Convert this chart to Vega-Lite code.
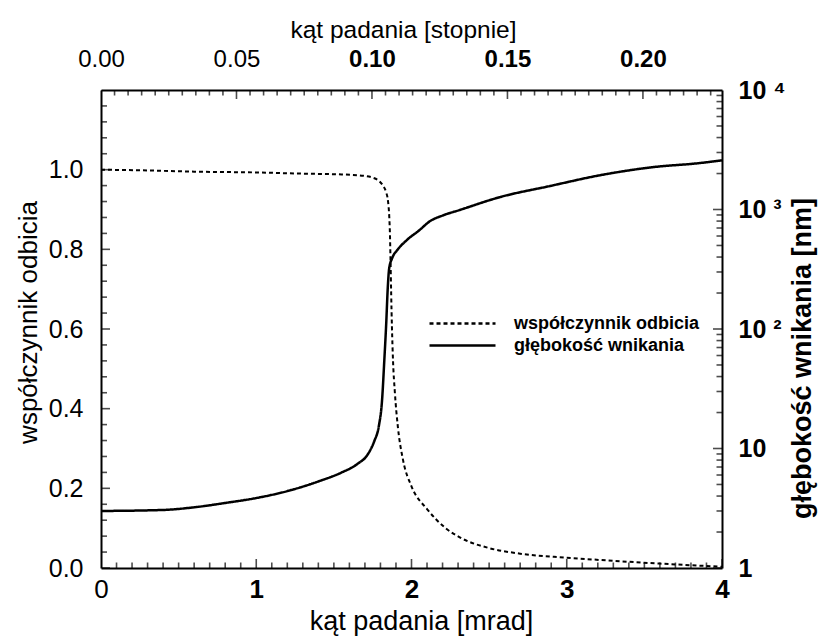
{
  "$schema": "https://vega.github.io/schema/vega-lite/v6.json",
  "width": 621,
  "height": 478,
  "autosize": "none",
  "padding": {"left": 101, "top": 90, "right": 100, "bottom": 68},
  "background": "white",
  "config": {
    "font": "Liberation Sans",
    "view": {"stroke": null},
    "axis": {
      "grid": false,
      "ticks": false,
      "domainColor": "black",
      "domainWidth": 2,
      "labelColor": "black",
      "titleColor": "black",
      "labelFont": "Liberation Sans",
      "titleFont": "Liberation Sans",
      "labelFontSize": 25,
      "titleFontSize": 26,
      "titleFontWeight": "normal",
      "labelOverlap": false,
      "labelFlush": false
    },
    "legend": {
      "orient": "none",
      "legendX": 349,
      "legendY": 221,
      "symbolType": "M-3,0H3",
      "symbolSize": 484,
      "symbolStrokeWidth": 2.5,
      "symbolStrokeColor": "black",
      "symbolFillColor": "transparent",
      "labelFont": "Liberation Sans",
      "labelFontSize": 18,
      "labelFontWeight": "bold",
      "labelColor": "black",
      "labelLimit": 400,
      "labelOffset": 39,
      "rowPadding": -2
    }
  },
  "datasets": {
    "odbicie": [
      {"x": 0.0, "R": 1.0},
      {"x": 0.3, "R": 0.998},
      {"x": 0.6, "R": 0.995},
      {"x": 1.0, "R": 0.993},
      {"x": 1.3, "R": 0.99},
      {"x": 1.55, "R": 0.988},
      {"x": 1.68, "R": 0.985},
      {"x": 1.75, "R": 0.98},
      {"x": 1.79, "R": 0.972},
      {"x": 1.816, "R": 0.96},
      {"x": 1.835, "R": 0.945},
      {"x": 1.849, "R": 0.92},
      {"x": 1.857, "R": 0.88},
      {"x": 1.861, "R": 0.84},
      {"x": 1.865, "R": 0.77},
      {"x": 1.869, "R": 0.69},
      {"x": 1.874, "R": 0.605},
      {"x": 1.881, "R": 0.52},
      {"x": 1.893, "R": 0.44},
      {"x": 1.912, "R": 0.355},
      {"x": 1.945, "R": 0.272},
      {"x": 2.0, "R": 0.205},
      {"x": 2.1, "R": 0.148},
      {"x": 2.22, "R": 0.1},
      {"x": 2.32, "R": 0.075},
      {"x": 2.5, "R": 0.05},
      {"x": 2.7, "R": 0.036},
      {"x": 3.0, "R": 0.026},
      {"x": 3.3, "R": 0.018},
      {"x": 3.6, "R": 0.011},
      {"x": 3.85, "R": 0.006},
      {"x": 4.0, "R": 0.003}
    ],
    "wnikanie": [
      {"x": 0.0, "d": 3.0},
      {"x": 0.4, "d": 3.06},
      {"x": 0.6, "d": 3.22},
      {"x": 0.8, "d": 3.5},
      {"x": 1.0, "d": 3.85},
      {"x": 1.2, "d": 4.4},
      {"x": 1.4, "d": 5.3},
      {"x": 1.55, "d": 6.3},
      {"x": 1.65, "d": 7.4},
      {"x": 1.72, "d": 9.0},
      {"x": 1.76, "d": 11.5},
      {"x": 1.79, "d": 15.5},
      {"x": 1.81, "d": 25},
      {"x": 1.825, "d": 55},
      {"x": 1.837, "d": 110},
      {"x": 1.847, "d": 220},
      {"x": 1.856, "d": 320},
      {"x": 1.875, "d": 390},
      {"x": 1.91, "d": 460},
      {"x": 1.97, "d": 555},
      {"x": 2.05, "d": 670},
      {"x": 2.12, "d": 800},
      {"x": 2.2, "d": 890},
      {"x": 2.31, "d": 990},
      {"x": 2.57, "d": 1270},
      {"x": 2.89, "d": 1570},
      {"x": 3.21, "d": 1930},
      {"x": 3.54, "d": 2250},
      {"x": 3.86, "d": 2450},
      {"x": 4.0, "d": 2580}
    ],
    "os_dol": [
      {"v": 0, "g": 1}, {"v": 0.1, "g": 0}, {"v": 0.2, "g": 0}, {"v": 0.3, "g": 0}, {"v": 0.4, "g": 0},
      {"v": 0.5, "g": 0}, {"v": 0.6, "g": 0}, {"v": 0.7, "g": 0}, {"v": 0.8, "g": 0}, {"v": 0.9, "g": 0},
      {"v": 1, "g": 1}, {"v": 1.1, "g": 0}, {"v": 1.2, "g": 0}, {"v": 1.3, "g": 0}, {"v": 1.4, "g": 0},
      {"v": 1.5, "g": 0}, {"v": 1.6, "g": 0}, {"v": 1.7, "g": 0}, {"v": 1.8, "g": 0}, {"v": 1.9, "g": 0},
      {"v": 2, "g": 1}, {"v": 2.1, "g": 0}, {"v": 2.2, "g": 0}, {"v": 2.3, "g": 0}, {"v": 2.4, "g": 0},
      {"v": 2.5, "g": 0}, {"v": 2.6, "g": 0}, {"v": 2.7, "g": 0}, {"v": 2.8, "g": 0}, {"v": 2.9, "g": 0},
      {"v": 3, "g": 1}, {"v": 3.1, "g": 0}, {"v": 3.2, "g": 0}, {"v": 3.3, "g": 0}, {"v": 3.4, "g": 0},
      {"v": 3.5, "g": 0}, {"v": 3.6, "g": 0}, {"v": 3.7, "g": 0}, {"v": 3.8, "g": 0}, {"v": 3.9, "g": 0},
      {"v": 4, "g": 1}
    ],
    "os_gora": [
      {"v": 0, "g": 1}, {"v": 0.005, "g": 0}, {"v": 0.01, "g": 0}, {"v": 0.015, "g": 0}, {"v": 0.02, "g": 0},
      {"v": 0.025, "g": 0}, {"v": 0.03, "g": 0}, {"v": 0.035, "g": 0}, {"v": 0.04, "g": 0}, {"v": 0.045, "g": 0},
      {"v": 0.05, "g": 1}, {"v": 0.055, "g": 0}, {"v": 0.06, "g": 0}, {"v": 0.065, "g": 0}, {"v": 0.07, "g": 0},
      {"v": 0.075, "g": 0}, {"v": 0.08, "g": 0}, {"v": 0.085, "g": 0}, {"v": 0.09, "g": 0}, {"v": 0.095, "g": 0},
      {"v": 0.1, "g": 1}, {"v": 0.105, "g": 0}, {"v": 0.11, "g": 0}, {"v": 0.115, "g": 0}, {"v": 0.12, "g": 0},
      {"v": 0.125, "g": 0}, {"v": 0.13, "g": 0}, {"v": 0.135, "g": 0}, {"v": 0.14, "g": 0}, {"v": 0.145, "g": 0},
      {"v": 0.15, "g": 1}, {"v": 0.155, "g": 0}, {"v": 0.16, "g": 0}, {"v": 0.165, "g": 0}, {"v": 0.17, "g": 0},
      {"v": 0.175, "g": 0}, {"v": 0.18, "g": 0}, {"v": 0.185, "g": 0}, {"v": 0.19, "g": 0}, {"v": 0.195, "g": 0},
      {"v": 0.2, "g": 1}, {"v": 0.205, "g": 0}, {"v": 0.21, "g": 0}, {"v": 0.215, "g": 0}, {"v": 0.22, "g": 0},
      {"v": 0.225, "g": 0}
    ],
    "os_lewa": [
      {"v": 0, "g": 1}, {"v": 0.04, "g": 0}, {"v": 0.08, "g": 0}, {"v": 0.12, "g": 0}, {"v": 0.16, "g": 0},
      {"v": 0.2, "g": 1}, {"v": 0.24, "g": 0}, {"v": 0.28, "g": 0}, {"v": 0.32, "g": 0}, {"v": 0.36, "g": 0},
      {"v": 0.4, "g": 1}, {"v": 0.44, "g": 0}, {"v": 0.48, "g": 0}, {"v": 0.52, "g": 0}, {"v": 0.56, "g": 0},
      {"v": 0.6, "g": 1}, {"v": 0.64, "g": 0}, {"v": 0.68, "g": 0}, {"v": 0.72, "g": 0}, {"v": 0.76, "g": 0},
      {"v": 0.8, "g": 1}, {"v": 0.84, "g": 0}, {"v": 0.88, "g": 0}, {"v": 0.92, "g": 0}, {"v": 0.96, "g": 0},
      {"v": 1.0, "g": 1}, {"v": 1.04, "g": 0}, {"v": 1.08, "g": 0}, {"v": 1.12, "g": 0}, {"v": 1.16, "g": 0}
    ],
    "os_prawa": [
      {"v": 1, "g": 1}, {"v": 2, "g": 0}, {"v": 3, "g": 0}, {"v": 4, "g": 0}, {"v": 5, "g": 0},
      {"v": 6, "g": 0}, {"v": 7, "g": 0}, {"v": 8, "g": 0}, {"v": 9, "g": 0},
      {"v": 10, "g": 1}, {"v": 20, "g": 0}, {"v": 30, "g": 0}, {"v": 40, "g": 0}, {"v": 50, "g": 0},
      {"v": 60, "g": 0}, {"v": 70, "g": 0}, {"v": 80, "g": 0}, {"v": 90, "g": 0},
      {"v": 100, "g": 1}, {"v": 200, "g": 0}, {"v": 300, "g": 0}, {"v": 400, "g": 0}, {"v": 500, "g": 0},
      {"v": 600, "g": 0}, {"v": 700, "g": 0}, {"v": 800, "g": 0}, {"v": 900, "g": 0},
      {"v": 1000, "g": 1}, {"v": 2000, "g": 0}, {"v": 3000, "g": 0}, {"v": 4000, "g": 0}, {"v": 5000, "g": 0},
      {"v": 6000, "g": 0}, {"v": 7000, "g": 0}, {"v": 8000, "g": 0}, {"v": 9000, "g": 0},
      {"v": 10000, "g": 1}
    ]
  },
  "layer": [
    {
      "data": {"name": "odbicie"},
      "mark": {"type": "line", "color": "black", "strokeWidth": 2, "interpolate": "monotone"},
      "encoding": {
        "x": {
          "field": "x", "type": "quantitative",
          "scale": {"domain": [0, 4], "nice": false, "zero": false},
          "axis": {
            "orient": "bottom",
            "values": [0, 1, 2, 3, 4],
            "format": "d",
            "labelPadding": 8,
            "labelFontSize": 26,
            "labelFontWeight": {"condition": {"test": "datum.value > 0", "value": "bold"}, "value": "normal"},
            "title": "kąt padania [mrad]",
            "titleFontSize": 27,
            "titleX": 320,
            "titleY": 53,
            "titleBaseline": "middle",
            "titleAlign": "center"
          }
        },
        "y": {
          "field": "R", "type": "quantitative",
          "scale": {"domain": [0, 1.2], "nice": false, "zero": false},
          "axis": {
            "orient": "left",
            "values": [0, 0.2, 0.4, 0.6, 0.8, 1.0],
            "format": ".1f",
            "labelPadding": 18,
            "title": "współczynnik odbicia",
            "titleFontSize": 26,
            "titleX": -73,
            "titleY": 232,
            "titleAngle": 270,
            "titleBaseline": "middle",
            "titleAlign": "center"
          }
        },
        "strokeDash": {
          "datum": "współczynnik odbicia",
          "type": "nominal",
          "scale": {"domain": ["współczynnik odbicia", "głębokość wnikania"], "range": [[4, 3], [1, 0]]},
          "legend": {"title": null}
        }
      }
    },
    {
      "data": {"name": "wnikanie"},
      "mark": {"type": "line", "color": "black", "strokeWidth": 2.5, "interpolate": "monotone"},
      "encoding": {
        "x": {
          "field": "x", "type": "quantitative",
          "scale": {"domain": [0, 4], "nice": false, "zero": false},
          "axis": null
        },
        "y": {
          "field": "d", "type": "quantitative",
          "scale": {"type": "log", "domain": [1, 10000], "nice": false},
          "axis": {
            "orient": "right",
            "values": [1, 10, 100, 1000, 10000],
            "labelExpr": "datum.value == 1 ? '1' : datum.value == 10 ? '10' : datum.value == 100 ? '10 ²' : datum.value == 1000 ? '10 ³' : '10 ⁴'",
            "labelPadding": 16,
            "labelFontWeight": "bold",
            "title": "głębokość wnikania [nm]",
            "titleFontSize": 27,
            "titleFontWeight": "bold",
            "titleX": 80,
            "titleY": 268,
            "titleAngle": 270,
            "titleBaseline": "middle",
            "titleAlign": "center"
          }
        },
        "strokeDash": {
          "datum": "głębokość wnikania",
          "type": "nominal"
        }
      }
    },
    {
      "data": {"name": "os_dol"},
      "mark": {"type": "tick", "orient": "vertical", "clip": true, "color": "black", "thickness": 1.6},
      "encoding": {
        "x": {"field": "v", "type": "quantitative", "scale": {"domain": [0, 4], "nice": false, "zero": false}, "axis": null},
        "y": {"datum": 0, "type": "quantitative", "scale": {"domain": [0, 1.2], "nice": false, "zero": false}, "axis": null},
        "size": {"condition": {"test": "datum.g == 1", "value": 18}, "value": 11}
      }
    },
    {
      "data": {"name": "os_gora"},
      "mark": {"type": "tick", "orient": "vertical", "clip": true, "color": "black", "thickness": 1.6},
      "encoding": {
        "x": {
          "field": "v", "type": "quantitative",
          "scale": {"domain": [0, 0.229183], "nice": false, "zero": false},
          "axis": {
            "orient": "top",
            "values": [0, 0.05, 0.1, 0.15, 0.2],
            "format": ".2f",
            "labelPadding": 19,
            "labelFontSize": 24,
            "labelFontWeight": {"condition": {"test": "datum.value > 0.07", "value": "bold"}, "value": "normal"},
            "title": "kąt padania [stopnie]",
            "titleFontSize": 24.5,
            "titleX": 302,
            "titleY": -60,
            "titleBaseline": "middle",
            "titleAlign": "center"
          }
        },
        "y": {"datum": 1.2, "type": "quantitative", "scale": {"domain": [0, 1.2], "nice": false, "zero": false}, "axis": null},
        "size": {"condition": {"test": "datum.g == 1", "value": 18}, "value": 11}
      }
    },
    {
      "data": {"name": "os_lewa"},
      "mark": {"type": "tick", "orient": "horizontal", "clip": true, "color": "black", "thickness": 1.6},
      "encoding": {
        "y": {"field": "v", "type": "quantitative", "scale": {"domain": [0, 1.2], "nice": false, "zero": false}, "axis": null},
        "x": {"datum": 0, "type": "quantitative", "scale": {"domain": [0, 4], "nice": false, "zero": false}, "axis": null},
        "size": {"condition": {"test": "datum.g == 1", "value": 18}, "value": 12}
      }
    },
    {
      "data": {"name": "os_prawa"},
      "mark": {"type": "tick", "orient": "horizontal", "clip": true, "color": "black", "thickness": 1.6},
      "encoding": {
        "y": {"field": "v", "type": "quantitative", "scale": {"type": "log", "domain": [1, 10000], "nice": false}, "axis": null},
        "x": {"datum": 4, "type": "quantitative", "scale": {"domain": [0, 4], "nice": false, "zero": false}, "axis": null},
        "size": {"condition": {"test": "datum.g == 1", "value": 18}, "value": 11}
      }
    }
  ],
  "resolve": {
    "scale": {"x": "independent", "y": "independent"},
    "axis": {"x": "independent", "y": "independent"}
  }
}
